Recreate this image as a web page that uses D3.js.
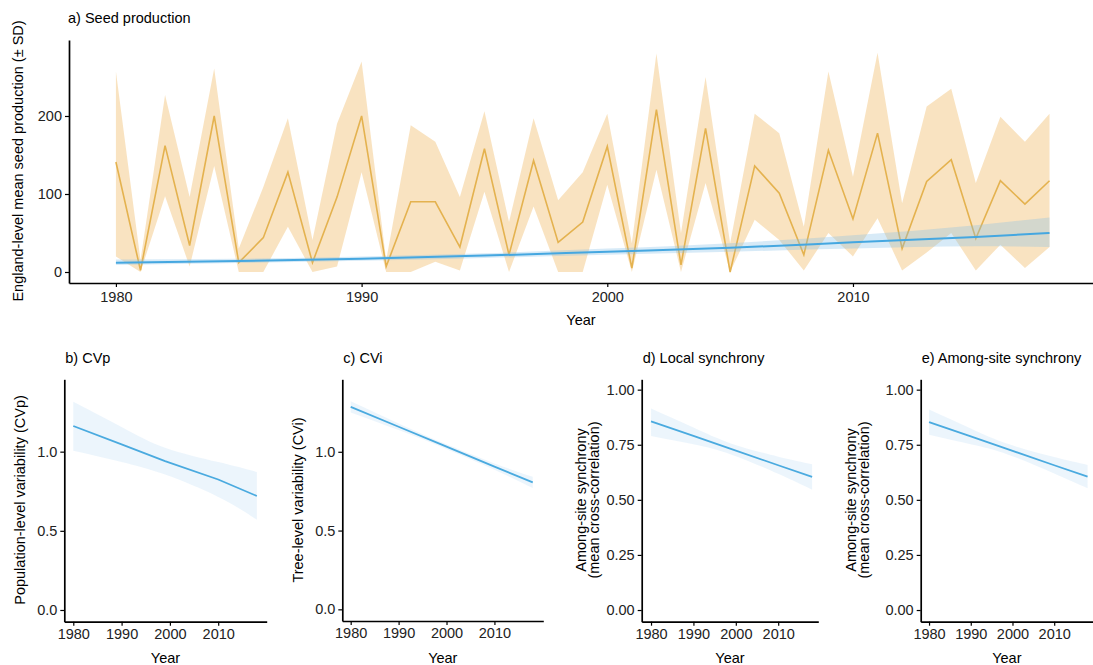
<!DOCTYPE html>
<html>
<head>
<meta charset="utf-8">
<script src="https://cdn.jsdelivr.net/npm/d3@7"></script>
<style>
  body { margin: 0; background: #fff; }
  text { font-family: "Liberation Sans", Arial, sans-serif; }
</style>
</head>
<body>
<div id="chart"></div>
<script>
// data
var years = d3.range(1980, 2019);
var seedMean = [141, 2, 162, 34, 200, 12, 44, 128, 12, 96, 200, 7, 90, 90, 32, 158, 22, 143, 38, 64,
  161, 5, 208, 9, 184, 0, 136, 101, 22, 156, 68, 178, 30, 116, 144, 43, 117, 87, 117];
var seedUpper = [257, 15, 227, 96, 261, 30, 109, 197, 41, 190, 270, 15, 188, 167, 96, 206, 64, 197, 92, 128,
  203, 37, 280, 50, 250, 37, 203, 178, 58, 257, 122, 281, 88, 212, 235, 114, 199, 167, 203];
var seedLower = [20, 0, 97, 7, 136, 0, 0, 58, 0, 7, 128, 0, 0, 13, 2, 103, 0, 84, 0, 0,
  112, 0, 131, 0, 114, 0, 67, 41, 2, 50, 20, 69, 2, 25, 50, 2, 35, 5, 32];

// fitted trend for seed production
var fitYears = [1980, 1985, 1990, 1995, 2000, 2005, 2010, 2015, 2018];
var fitMean = [12, 14, 17, 21, 26, 31, 38, 45, 50];
var fitLower = [9, 11.5, 14.5, 18, 22, 26, 30, 33, 32];
var fitUpper = [16, 17, 20, 24, 30, 37, 47, 60, 70];

// trends for the small panels
var trendYears = [1980, 1990, 1999, 2010, 2018];
var cvpMean = [1.162, 1.046, 0.94, 0.824, 0.72];
var cvpLower = [1.005, 0.935, 0.855, 0.714, 0.57];
var cvpUpper = [1.315, 1.156, 1.025, 0.934, 0.872];
var cviMean = [1.285, 1.159, 1.045, 0.906, 0.806];
var cviLower = [1.25, 1.138, 1.03, 0.886, 0.77];
var cviUpper = [1.32, 1.18, 1.06, 0.926, 0.842];
var locMean = [0.856, 0.79, 0.73, 0.657, 0.604];
var locLower = [0.79, 0.752, 0.705, 0.618, 0.546];
var locUpper = [0.914, 0.828, 0.755, 0.696, 0.662];
var amgMean = [0.853, 0.788, 0.729, 0.657, 0.605];
var amgLower = [0.795, 0.752, 0.705, 0.62, 0.553];
var amgUpper = [0.91, 0.824, 0.753, 0.694, 0.658];

var xTicksTop = [1980, 1990, 2000, 2010];
var yTicksTop = [0, 100, 200];
var xTicksSmall = [1980, 1990, 2000, 2010];
var yTicksCV = [0, 0.5, 1.0];
var yTicksSync = [0, 0.25, 0.5, 0.75, 1.0];

var width = 1093, height = 665;
var svg = d3.select("#chart").append("svg")
  .attr("width", width)
  .attr("height", height);

var orangeLine = "#e4b24f", orangeFill = "rgba(242,194,118,0.45)";
var blueLine = "#45a7e0", blueFill = "rgba(130,190,230,0.32)";
var blueLineSmall = "#4aaadf", blueFillSmall = "rgba(170,210,240,0.22)";

function drawAxes(p, x, y, xt, yt, yfmt, pad) {
  var gx = svg.append("g")
    .attr("transform", "translate(0," + p.bottom + ")")
    .call(d3.axisBottom(x).tickValues(xt).tickFormat(d3.format("d"))
      .tickSize(4).tickSizeOuter(0).tickPadding(pad));
  var gy = svg.append("g")
    .attr("transform", "translate(" + p.left + ",0)")
    .call(d3.axisLeft(y).tickValues(yt).tickFormat(yfmt)
      .tickSize(4).tickSizeOuter(0).tickPadding(3));
  [gx, gy].forEach(function(g) {
    g.select(".domain").attr("stroke", "#000").attr("stroke-width", 1.7);
    g.selectAll(".tick line").attr("stroke", "#000").attr("stroke-width", 1.2);
    g.selectAll(".tick text").attr("fill", "#222").style("font-size", "14.5px");
  });
}

// ---- panel a
var pa = {left: 69, right: 1093, top: 40, bottom: 283};
var xa = d3.scaleLinear().domain([1978.09, 2019.77]).range([pa.left, pa.right]);
var ya = d3.scaleLinear().domain([-14.1, 297.4]).range([pa.bottom, pa.top]);

svg.append("path")
  .datum(years)
  .attr("fill", orangeFill)
  .attr("d", d3.area()
    .x(function(d) { return xa(d); })
    .y0(function(d, i) { return ya(seedLower[i]); })
    .y1(function(d, i) { return ya(seedUpper[i]); }));
svg.append("path")
  .datum(years)
  .attr("fill", "none")
  .attr("stroke", orangeLine)
  .attr("stroke-width", 1.6)
  .attr("d", d3.line()
    .x(function(d) { return xa(d); })
    .y(function(d, i) { return ya(seedMean[i]); }));
svg.append("path")
  .datum(fitYears)
  .attr("fill", blueFill)
  .attr("d", d3.area().curve(d3.curveMonotoneX)
    .x(function(d) { return xa(d); })
    .y0(function(d, i) { return ya(fitLower[i]); })
    .y1(function(d, i) { return ya(fitUpper[i]); }));
svg.append("path")
  .datum(fitYears)
  .attr("fill", "none")
  .attr("stroke", blueLine)
  .attr("stroke-width", 2)
  .attr("d", d3.line().curve(d3.curveMonotoneX)
    .x(function(d) { return xa(d); })
    .y(function(d, i) { return ya(fitMean[i]); }));

drawAxes(pa, xa, ya, xTicksTop, yTicksTop, d3.format("d"), 5);

svg.append("text").attr("x", 68).attr("y", 23)
  .style("font-size", "14.5px").text("a) Seed production");
svg.append("text").attr("x", 581).attr("y", 325).attr("text-anchor", "middle")
  .style("font-size", "14.5px").text("Year");
svg.append("text")
  .attr("transform", "translate(23,161) rotate(-90)")
  .attr("text-anchor", "middle")
  .style("font-size", "14.5px")
  .text("England-level mean seed production (± SD)");

// ---- small panels
var panels = [
  {title: "b) CVp", ylab: ["Population-level variability (CVp)"], labX: [25],
   left: 64.3, right: 266.7, top: 379.3, bottom: 621.7,
   xd: [1978.14, 2020.04], yd: [-0.074, 1.457], yt: yTicksCV, yf: d3.format(".1f"),
   mean: cvpMean, lo: cvpLower, hi: cvpUpper},
  {title: "c) CVi", ylab: ["Tree-level variability (CVi)"], labX: [303],
   left: 342.3, right: 543.3, top: 379.3, bottom: 621,
   xd: [1978.25, 2020.2], yd: [-0.074, 1.46], yt: yTicksCV, yf: d3.format(".1f"),
   mean: cviMean, lo: cviLower, hi: cviUpper},
  {title: "d) Local synchrony", ylab: ["Among-site synchrony", "(mean cross-correlation)"], labX: [586, 599],
   left: 641.7, right: 818.3, top: 379.3, bottom: 621.7,
   xd: [1977.8, 2019.46], yd: [-0.053, 1.047], yt: yTicksSync, yf: d3.format(".2f"),
   mean: locMean, lo: locLower, hi: locUpper},
  {title: "e) Among-site synchrony", ylab: ["Among-site synchrony", "(mean cross-correlation)"], labX: [856, 869],
   left: 920.7, right: 1093, top: 379.3, bottom: 621.7,
   xd: [1978.0, 2019.3], yd: [-0.053, 1.047], yt: yTicksSync, yf: d3.format(".2f"),
   mean: amgMean, lo: amgLower, hi: amgUpper}
];

panels.forEach(function(p) {
  var x = d3.scaleLinear().domain(p.xd).range([p.left, p.right]);
  var y = d3.scaleLinear().domain(p.yd).range([p.bottom, p.top]);

  svg.append("path")
    .datum(trendYears)
    .attr("fill", blueFillSmall)
    .attr("d", d3.area().curve(d3.curveNatural)
      .x(function(d) { return x(d); })
      .y0(function(d, i) { return y(p.lo[i]); })
      .y1(function(d, i) { return y(p.hi[i]); }));
  svg.append("path")
    .datum(trendYears)
    .attr("fill", "none")
    .attr("stroke", blueLineSmall)
    .attr("stroke-width", 1.8)
    .attr("d", d3.line()
      .x(function(d) { return x(d); })
      .y(function(d, i) { return y(p.mean[i]); }));

  drawAxes(p, x, y, xTicksSmall, p.yt, p.yf, 3);

  svg.append("text").attr("x", p.left + 1).attr("y", 363)
    .style("font-size", "14.5px").text(p.title);
  svg.append("text").attr("x", (p.left + p.right) / 2).attr("y", 663)
    .attr("text-anchor", "middle").style("font-size", "14.5px").text("Year");
  p.ylab.forEach(function(t, i) {
    svg.append("text")
      .attr("transform", "translate(" + p.labX[i] + ",500) rotate(-90)")
      .attr("text-anchor", "middle")
      .style("font-size", "14.5px")
      .text(t);
  });
});
</script>
</body>
</html>
